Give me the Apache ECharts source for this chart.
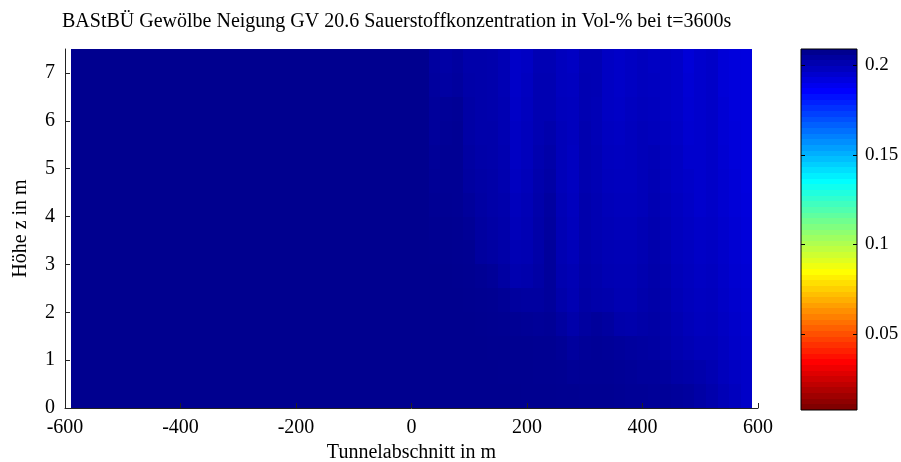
<!DOCTYPE html>
<html>
<head>
<meta charset="utf-8">
<script src="https://cdn.jsdelivr.net/npm/echarts@6/dist/echarts.min.js"></script>
<style>
  html, body { margin: 0; padding: 0; background: #fff; }
  #chart { width: 901px; height: 462px; }
</style>
</head>
<body>
<div id="chart"></div>
<script>
// Oxygen concentration (volume fraction) along the tunnel, t = 3600 s
const titleText = 'BAStBÜ Gewölbe Neigung GV 20.6 Sauerstoffkonzentration in Vol-% bei t=3600s';
const xAxisName = 'Tunnelabschnitt in m';
const yAxisName = 'Höhe z in m';

// Cell boundaries along the tunnel (m) and over the height (m, top to bottom)
const xEdges = [-590, 30, 50, 70, 90, 110, 130, 150, 170, 190, 210, 230, 250, 270, 290,
  310, 330, 350, 370, 390, 410, 430, 450, 470, 490, 510, 530, 550, 570, 590];
const zEdges = [7.5, 7.0, 6.5, 6.0, 5.5, 5.0, 4.5, 4.0, 3.5, 3.0, 2.5, 2.0, 1.5, 1.0, 0.5, 0.0];

// O2 volume fraction per height band (top band first), one value per tunnel cell
const o2Rows = [
  [0.2090, 0.2056,0.2046,0.2056,0.2036,0.2036,0.2032,0.2016,0.1976,0.1986,0.2016,0.2016,0.1996,0.1986,0.2016,0.2016,0.1986,0.1976,0.1986,0.1996,0.1986,0.1986,0.1976,0.1946,0.1966,0.1976,0.1946,0.1936,0.1932],
  [0.2090, 0.2060,0.2052,0.2060,0.2040,0.2036,0.2032,0.2016,0.1976,0.1992,0.2020,0.2020,0.1996,0.1992,0.2020,0.2016,0.1986,0.1976,0.1986,0.1996,0.1992,0.1986,0.1976,0.1952,0.1966,0.1976,0.1946,0.1936,0.1932],
  [0.2090, 0.2066,0.2072,0.2076,0.2046,0.2036,0.2032,0.2020,0.1980,0.1996,0.2020,0.2020,0.2000,0.1996,0.2020,0.2012,0.1986,0.1980,0.1992,0.2000,0.1996,0.1986,0.1976,0.1956,0.1966,0.1976,0.1952,0.1936,0.1932],
  [0.2090, 0.2066,0.2076,0.2080,0.2046,0.2036,0.2036,0.2020,0.1986,0.2000,0.2020,0.2032,0.2006,0.1996,0.2026,0.2012,0.1992,0.1986,0.1996,0.2006,0.2000,0.1992,0.1980,0.1960,0.1966,0.1976,0.1952,0.1940,0.1932],
  [0.2090, 0.2072,0.2080,0.2080,0.2052,0.2040,0.2036,0.2024,0.1986,0.2000,0.2026,0.2040,0.2006,0.1992,0.2026,0.2016,0.1996,0.1992,0.1996,0.2006,0.2012,0.1996,0.1986,0.1966,0.1966,0.1976,0.1956,0.1940,0.1932],
  [0.2090, 0.2076,0.2080,0.2080,0.2056,0.2046,0.2040,0.2026,0.1992,0.2006,0.2032,0.2046,0.2006,0.1992,0.2026,0.2016,0.2000,0.1996,0.1996,0.2006,0.2016,0.2000,0.1986,0.1976,0.1966,0.1976,0.1960,0.1946,0.1932],
  [0.2090, 0.2080,0.2082,0.2080,0.2066,0.2050,0.2040,0.2032,0.2000,0.2012,0.2036,0.2056,0.2012,0.1996,0.2032,0.2020,0.2006,0.2000,0.2000,0.2006,0.2020,0.2006,0.1992,0.1980,0.1966,0.1976,0.1960,0.1946,0.1936],
  [0.2090, 0.2084,0.2086,0.2084,0.2076,0.2056,0.2046,0.2036,0.2006,0.2016,0.2040,0.2060,0.2016,0.2000,0.2032,0.2020,0.2012,0.2006,0.2006,0.2016,0.2026,0.2012,0.1996,0.1986,0.1976,0.1980,0.1966,0.1952,0.1940],
  [0.2090, 0.2088,0.2088,0.2086,0.2084,0.2060,0.2052,0.2040,0.2016,0.2020,0.2040,0.2066,0.2020,0.2006,0.2036,0.2026,0.2016,0.2012,0.2012,0.2020,0.2032,0.2020,0.2000,0.1992,0.1980,0.1986,0.1972,0.1956,0.1946],
  [0.2090, 0.2090,0.2090,0.2088,0.2086,0.2080,0.2072,0.2052,0.2026,0.2032,0.2046,0.2066,0.2026,0.2016,0.2040,0.2032,0.2020,0.2016,0.2016,0.2026,0.2036,0.2026,0.2006,0.1996,0.1986,0.1992,0.1976,0.1960,0.1952],
  [0.2090, 0.2090,0.2090,0.2090,0.2088,0.2086,0.2084,0.2076,0.2060,0.2056,0.2056,0.2066,0.2036,0.2020,0.2046,0.2036,0.2032,0.2020,0.2020,0.2032,0.2040,0.2032,0.2012,0.2000,0.1992,0.1996,0.1980,0.1966,0.1956],
  [0.2090, 0.2090,0.2090,0.2090,0.2090,0.2088,0.2086,0.2084,0.2080,0.2076,0.2072,0.2076,0.2056,0.2036,0.2056,0.2066,0.2056,0.2036,0.2032,0.2040,0.2046,0.2036,0.2020,0.2006,0.1996,0.2000,0.1986,0.1972,0.1960],
  [0.2090, 0.2090,0.2090,0.2090,0.2090,0.2090,0.2088,0.2088,0.2086,0.2086,0.2084,0.2084,0.2076,0.2060,0.2072,0.2076,0.2072,0.2066,0.2060,0.2056,0.2052,0.2040,0.2026,0.2016,0.2006,0.2006,0.1992,0.1976,0.1966],
  [0.2090, 0.2090,0.2090,0.2090,0.2090,0.2090,0.2090,0.2088,0.2088,0.2088,0.2086,0.2086,0.2084,0.2076,0.2080,0.2080,0.2080,0.2076,0.2072,0.2066,0.2066,0.2060,0.2046,0.2040,0.2032,0.2020,0.2000,0.1986,0.1976],
  [0.2090, 0.2090,0.2090,0.2090,0.2090,0.2090,0.2090,0.2090,0.2090,0.2088,0.2088,0.2088,0.2086,0.2086,0.2084,0.2084,0.2084,0.2080,0.2076,0.2076,0.2072,0.2072,0.2066,0.2060,0.2046,0.2032,0.2012,0.1996,0.1976]
];

// Axis ticks
const xTicks = [-600, -400, -200, 0, 200, 400, 600];
const zTicks = [0, 1, 2, 3, 4, 5, 6, 7];
const colorbarTicks = [0.05, 0.1, 0.15, 0.2];

// Colour scale limits
const cMin = 0.0075;
const cMax = 0.209;

// 64-entry jet colour table, low index = blue end
function jetTable(m) {
  const n = Math.ceil(m / 4);
  const u = [];
  for (let k = 1; k <= n; k++) u.push(k / n);
  for (let k = 0; k < n - 1; k++) u.push(1);
  for (let k = n; k >= 1; k--) u.push(k / n);
  const off = Math.ceil(n / 2) - (m % 4 === 1 ? 1 : 0);
  const pick = (i) => (i >= 1 && i <= u.length ? u[i - 1] : 0);
  const out = [];
  for (let i = 1; i <= m; i++) {
    const g = pick(i - off);
    const r = pick(i - off - n);
    const b = pick(i - off + n);
    out.push('rgb(' + Math.round(r * 255) + ',' + Math.round(g * 255) + ',' + Math.round(b * 255) + ')');
  }
  return out;
}
const jet = jetTable(64);
// Low concentration -> dark red, ambient -> dark blue
const palette = jet.slice().reverse();

// Field cells: [x0, x1, zLow, zHigh, value]
const fieldCells = [];
o2Rows.forEach((row, r) => {
  row.forEach((v, c) => {
    fieldCells.push([xEdges[c], xEdges[c + 1], zEdges[r + 1], zEdges[r], v]);
  });
});

// Colour bar bands, one per colour table entry
const barCells = [];
for (let j = 0; j < palette.length; j++) {
  const lo = cMin + (cMax - cMin) * j / palette.length;
  const hi = cMin + (cMax - cMin) * (j + 1) / palette.length;
  barCells.push([0, 1, lo, hi, cMin + (cMax - cMin) * j / (palette.length - 1)]);
}

// Cells snap to whole pixels so neighbours meet without seams
function renderCell(params, api) {
  const a = api.coord([api.value(0), api.value(3)]);
  const b = api.coord([api.value(1), api.value(2)]);
  const x0 = Math.round(a[0]), y0 = Math.round(a[1]);
  const x1 = Math.round(b[0]), y1 = Math.round(b[1]);
  return {
    type: 'rect',
    shape: { x: x0, y: y0, width: x1 - x0, height: y1 - y0 },
    style: { fill: api.visual('color') }
  };
}

// Short inward tick marks on both edges of the colour bar
function renderBarTick(params, api) {
  const v = api.value(0);
  const l = api.coord([0, v]);
  const r = api.coord([1, v]);
  const y = Math.round(l[1]) + 0.5;
  return {
    type: 'group',
    children: [
      { type: 'line', shape: { x1: l[0], y1: y, x2: l[0] + 4, y2: y }, style: { stroke: '#000', lineWidth: 1 } },
      { type: 'line', shape: { x1: r[0] - 4, y1: y, x2: r[0], y2: y }, style: { stroke: '#000', lineWidth: 1 } }
    ]
  };
}

const font = 'Liberation Serif';
const axisFont = { fontFamily: font, fontSize: 20, color: '#000' };
const chart = echarts.init(document.getElementById('chart'), null, { renderer: 'canvas' });
chart.setOption({
  backgroundColor: '#fff',
  animation: false,
  title: {
    text: titleText,
    left: 57,
    top: 7,
    textStyle: { fontFamily: font, fontSize: 20, fontWeight: 'normal', color: '#000' }
  },
  grid: [
    { left: 65, right: 143, top: 49, bottom: 54, outerBoundsMode: 'none' },
    { left: 801, width: 56, top: 49, bottom: 52, outerBoundsMode: 'none',
      show: true, borderColor: '#000', borderWidth: 1, backgroundColor: 'transparent', z: 20 }
  ],
  xAxis: [
    {
      type: 'value', gridIndex: 0, min: -600, max: 600, interval: 200, z: 10,
      name: xAxisName, nameLocation: 'middle', nameGap: 35,
      nameTextStyle: axisFont,
      axisLine: { show: true, onZero: false, lineStyle: { color: '#222', width: 1 } },
      axisTick: { show: true, inside: true, length: 5, lineStyle: { color: '#222' } },
      axisLabel: Object.assign({ margin: 10, customValues: xTicks, formatter: (v) => String(v) }, axisFont),
      splitLine: { show: false }
    },
    {
      type: 'value', gridIndex: 1, min: 0, max: 1, show: false
    }
  ],
  yAxis: [
    {
      type: 'value', gridIndex: 0, min: 0, max: 7.5, z: 10,
      name: yAxisName, nameLocation: 'middle', nameGap: 34,
      nameTextStyle: axisFont,
      axisLine: { show: true, onZero: false, lineStyle: { color: '#222', width: 1 } },
      axisTick: { show: true, inside: true, length: 5, customValues: zTicks, lineStyle: { color: '#222' } },
      axisLabel: Object.assign({ margin: 10, customValues: zTicks, formatter: (v) => String(v) }, axisFont),
      splitLine: { show: false }
    },
    {
      type: 'value', gridIndex: 1, min: cMin, max: cMax, position: 'right', z: 30,
      axisLine: { show: false },
      axisTick: { show: false },
      axisLabel: Object.assign({ margin: 8, customValues: colorbarTicks,
        formatter: (v) => String(+v.toFixed(2)) }, axisFont, { fontSize: 19 }),
      splitLine: { show: false }
    }
  ],
  visualMap: {
    type: 'continuous', show: false, min: cMin, max: cMax, dimension: 4,
    seriesIndex: [0, 1], inRange: { color: palette }
  },
  series: [
    {
      type: 'custom', xAxisIndex: 0, yAxisIndex: 0, z: 2,
      renderItem: renderCell, data: fieldCells,
      encode: { x: [0, 1], y: [2, 3] }, clip: true, silent: true
    },
    {
      type: 'custom', xAxisIndex: 1, yAxisIndex: 1, z: 2,
      renderItem: renderCell, data: barCells,
      encode: { x: [0, 1], y: [2, 3] }, silent: true
    },
    {
      type: 'custom', xAxisIndex: 1, yAxisIndex: 1, z: 3,
      renderItem: renderBarTick, data: colorbarTicks.map((v) => [v]),
      encode: { y: 0 }, silent: true
    }
  ]
});
</script>
</body>
</html>
